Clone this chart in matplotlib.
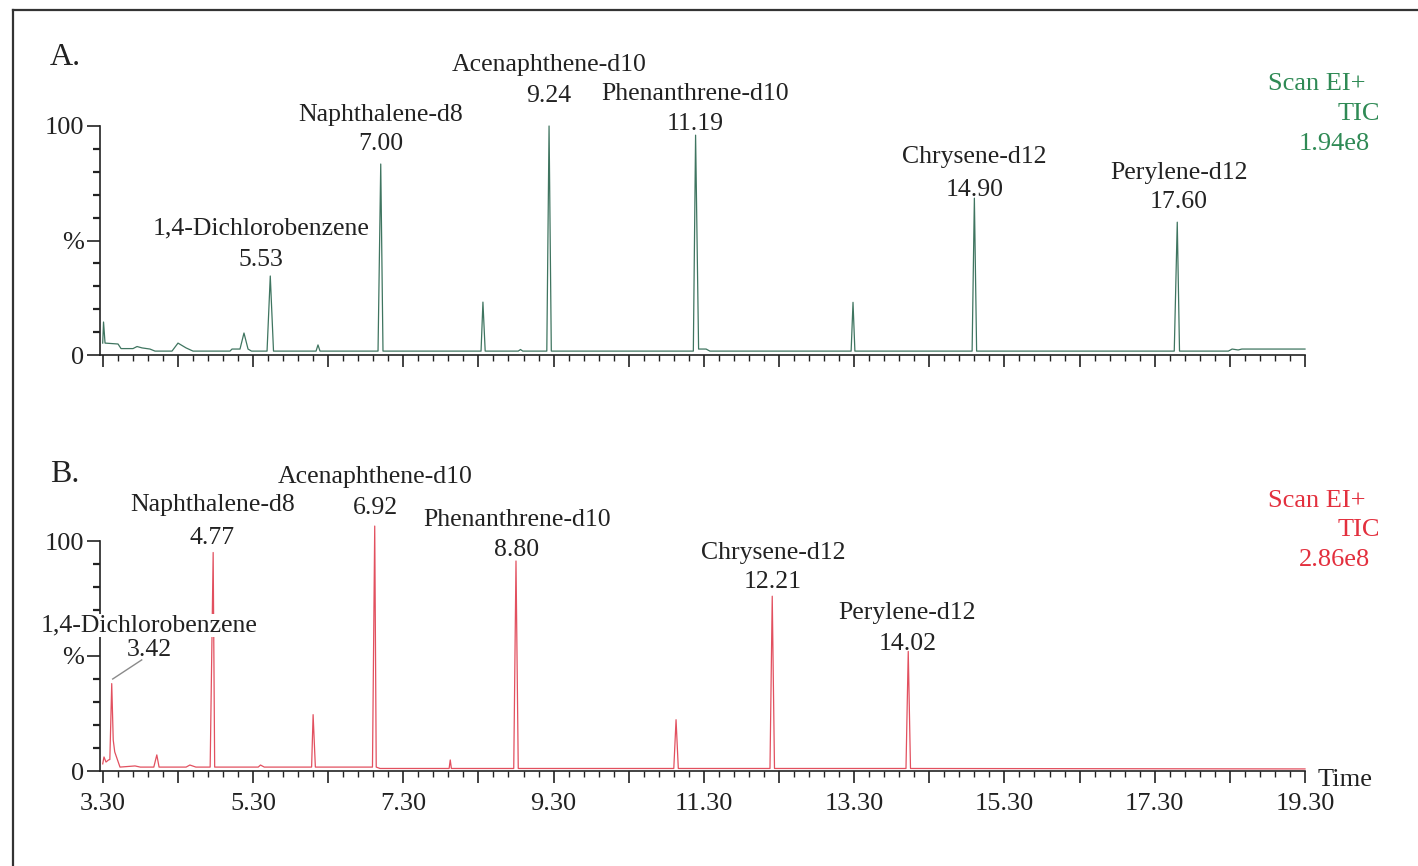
import matplotlib
matplotlib.use("Agg")
import matplotlib.pyplot as plt
from matplotlib.ticker import FixedLocator, FixedFormatter
from matplotlib.transforms import blended_transform_factory
from matplotlib.lines import Line2D

plt.rcParams['font.family'] = ['Liberation Serif', 'DejaVu Serif']

# ---------------- data ----------------
# Chromatogram A (retention time in min, relative intensity in %)
time_A = [3.300, 3.311, 3.331, 3.504, 3.544, 3.703, 3.757, 3.823, 3.929, 3.996,
          4.222, 4.302, 4.409, 4.502, 4.994, 5.021, 5.127, 5.180, 5.234, 5.280,
          5.487, 5.530, 5.573, 6.139, 6.165, 6.192, 6.964, 7.000, 7.030, 8.335,
          8.360, 8.390, 8.830, 8.860, 8.890, 9.210, 9.240, 9.270, 11.160, 11.190,
          11.230, 11.330, 11.380, 13.260, 13.285, 13.310, 14.870, 14.900, 14.930,
          17.560, 17.600, 17.630, 18.280, 18.330, 18.410, 18.460, 19.300]
inten_A = [5.2, 14.4, 5.2, 4.8, 2.8, 2.8, 3.7, 3.1, 2.6, 1.7,
           1.7, 5.2, 3.1, 1.7, 1.7, 2.6, 2.6, 9.6, 2.6, 1.7,
           1.7, 34.5, 1.7, 1.7, 4.4, 1.7, 1.7, 83.4, 1.7, 1.7,
           23.1, 1.7, 1.7, 2.4, 1.7, 1.7, 100.0, 1.7, 1.7, 96.0,
           2.6, 2.6, 1.7, 1.7, 23.0, 1.7, 1.7, 68.5, 1.7,
           1.7, 58.0, 1.7, 1.7, 2.6, 2.2, 2.6, 2.6]

# Chromatogram B
time_B = [3.300, 3.317, 3.344, 3.377, 3.395, 3.420, 3.440, 3.460, 3.530, 3.730,
          3.800, 3.980, 4.020, 4.050, 4.410, 4.460, 4.540, 4.730, 4.770, 4.790,
          5.370, 5.400, 5.450, 6.080, 6.100, 6.130, 6.890, 6.920, 6.940, 6.990,
          7.910, 7.925, 7.940, 8.770, 8.800, 8.830, 10.900, 10.930, 10.960, 12.180,
          12.210, 12.240, 13.990, 14.020, 14.050, 19.300]
inten_B = [3.1, 6.1, 3.9, 4.8, 5.0, 38.0, 13.5, 8.3, 1.7, 2.2,
           1.7, 1.7, 7.0, 1.7, 1.7, 2.6, 1.7, 1.7, 95.0, 1.7,
           1.7, 2.6, 1.7, 1.7, 24.5, 1.7, 1.7, 106.5, 1.7, 1.1,
           1.1, 4.8, 1.1, 1.1, 91.3, 1.1, 1.1, 22.3, 1.1, 1.1,
           76.0, 1.1, 1.1, 52.0, 1.1, 0.9]

peak_names = ['1,4-Dichlorobenzene', 'Naphthalene-d8', 'Acenaphthene-d10',
              'Phenanthrene-d10', 'Chrysene-d12', 'Perylene-d12']
rt_A = [5.53, 7.00, 9.24, 11.19, 14.90, 17.60]
rt_B = [3.42, 4.77, 6.92, 8.80, 12.21, 14.02]

scan_A = ['Scan EI+', 'TIC', '1.94e8']
scan_B = ['Scan EI+', 'TIC', '2.86e8']

x_tick_labels = ['3.30', '5.30', '7.30', '9.30', '11.30', '13.30', '15.30', '17.30', '19.30']
y_tick_labels = ['0', '%', '100']

# ---------------- layout ----------------
W, H = 1418, 866
fig = plt.figure(figsize=(W / 100, H / 100), dpi=100)

DY = 2.5  # vertical text offset in pixels

def fx(x):
    return x / W

def fy(y):
    return 1 - y / H

def ty(y):
    return 1 - (y + DY) / H

green_line = '#3f7560'
green_text = '#2f8a55'
red_line = '#e2505f'
red_text = '#e3303e'
txt_col = '#222222'
FS = 18.5
TFS = 19

XMIN, XMAX = 3.264, 19.30
ax_A = fig.add_axes([fx(100), fy(355), fx(1305) - fx(100), fy(126) - fy(355)])
ax_B = fig.add_axes([fx(100), fy(771), fx(1305) - fx(100), fy(541) - fy(771)])

major_x = [3.30 + k for k in range(17)]
minor_x = [3.30 + 0.2 * k for k in range(81)]
xlab_full = []
for k in range(17):
    xlab_full.append(x_tick_labels[k // 2] if k % 2 == 0 else '')

for ax, show_labels in ((ax_A, False), (ax_B, True)):
    ax.set_xlim(XMIN, XMAX)
    ax.set_ylim(0, 100)
    for s in ('top', 'right'):
        ax.spines[s].set_visible(False)
    for s in ('left', 'bottom'):
        ax.spines[s].set_linewidth(1.2)
        ax.spines[s].set_color('#222222')
    ax.xaxis.set_major_locator(FixedLocator(major_x))
    ax.xaxis.set_minor_locator(FixedLocator(minor_x))
    ax.xaxis.set_major_formatter(FixedFormatter(xlab_full if show_labels else [''] * 17))
    ax.yaxis.set_major_locator(FixedLocator([0, 50, 100]))
    ax.yaxis.set_minor_locator(FixedLocator([10, 20, 30, 40, 60, 70, 80, 90]))
    ax.yaxis.set_major_formatter(FixedFormatter(y_tick_labels))
    ax.tick_params(axis='x', which='major', direction='out', length=8.6, width=1.2,
                   color='#222222', labelsize=TFS, pad=7.5, labelcolor=txt_col)
    ax.tick_params(axis='x', which='minor', direction='out', length=4.3, width=1.0,
                   color='#222222')
    ax.tick_params(axis='y', which='major', direction='out', length=9.4, width=1.2,
                   color='#222222', labelsize=TFS, pad=2, labelcolor=txt_col)
    ax.tick_params(axis='y', which='minor', direction='out', length=5, width=1.6,
                   color='#222222')
    ax.patch.set_alpha(0)

ax_A.plot(time_A, inten_A, color=green_line, lw=0.9, clip_on=False, zorder=3)
ax_B.plot(time_B, inten_B, color=red_line, lw=0.9, clip_on=False, zorder=3)

# peak labels (x from retention time, y in figure pixels)
tr_A = blended_transform_factory(ax_A.transData, fig.transFigure)
tr_B = blended_transform_factory(ax_B.transData, fig.transFigure)

name_y_A = [226, 112, 63, 91, 155, 170]
num_y_A = [257, 142, 93, 122, 187, 200]
dx_A = [-0.12, 0.0, 0.0, 0.0, 0.0, 0.02]
for name, rt, ny, my, dx in zip(peak_names, rt_A, name_y_A, num_y_A, dx_A):
    ax_A.text(rt + dx, ty(ny), name, transform=tr_A, ha='center', va='center',
              fontsize=FS, color=txt_col)
    ax_A.text(rt + dx, ty(my), f'{rt:.2f}', transform=tr_A, ha='center', va='center',
              fontsize=FS, color=txt_col)

name_y_B = [623, 503, 475, 517, 550, 610]
num_y_B = [648, 535, 506, 547, 580, 642]
dx_B = [0.50, -0.01, 0.01, 0.01, 0.01, -0.01]
for i, (name, rt, ny, my, dx) in enumerate(zip(peak_names, rt_B, name_y_B, num_y_B, dx_B)):
    bbox = dict(facecolor='white', edgecolor='none', pad=0.5) if i == 0 else None
    t1 = ax_B.text(rt + dx, ty(ny), name, transform=tr_B, ha='center', va='center',
                   fontsize=FS, color=txt_col, bbox=bbox, zorder=6)
    t1.set_clip_on(False)
    ax_B.text(rt + dx, ty(my), f'{rt:.2f}', transform=tr_B, ha='center', va='center',
              fontsize=FS, color=txt_col, zorder=6)

# leader line for the first peak in B
ax_B.plot([3.819, 3.433], [48.3, 40.0], color='#8a8a8a', lw=1.0, clip_on=False, zorder=4)

# panel letters
fig.text(fx(50), ty(55), 'A.', fontsize=23, color=txt_col, ha='left', va='center')
fig.text(fx(50), ty(472), 'B.', fontsize=23, color=txt_col, ha='left', va='center')

# scan info
for lines, col, y0 in ((scan_A, green_text, 82), (scan_B, red_text, 498)):
    xr = [1365, 1380, 1370]
    for j, s in enumerate(lines):
        fig.text(fx(xr[j]), ty(y0 + 30 * j), s, fontsize=TFS, color=col,
                 ha='right', va='center')

fig.text(fx(1318), ty(777), 'Time', fontsize=TFS, color=txt_col, ha='left', va='center')

# outer frame (left and top edges visible)
fig.add_artist(Line2D([fx(13), fx(13)], [fy(10), 0], color='#333333', lw=1.6))
fig.add_artist(Line2D([fx(13), 1], [fy(10), fy(10)], color='#333333', lw=1.6))

fig.savefig('out.png', dpi=100)
